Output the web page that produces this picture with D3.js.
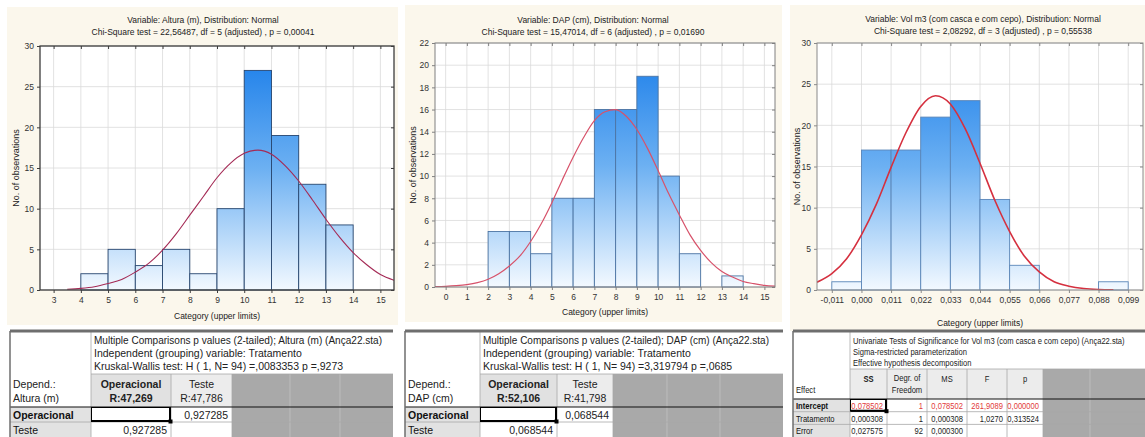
<!DOCTYPE html>
<html>
<head>
<meta charset="utf-8">
<script src="https://cdn.jsdelivr.net/npm/d3@7"></script>
<style>
  body { margin: 0; background: #fff; }
  svg { display: block; }
  text { font-family: "Liberation Sans", Arial, sans-serif; }
</style>
</head>
<body>
<script>
// ---------- histogram data ----------
const alturaEdges  = [4, 5, 6, 7, 8, 9, 10, 11, 12, 13, 14];
const alturaCounts = [2, 5, 3, 5, 2, 10, 27, 19, 13, 8];
const alturaTicks  = [3, 4, 5, 6, 7, 8, 9, 10, 11, 12, 13, 14, 15];
const alturaYTicks = [0, 5, 10, 15, 20, 25, 30];
const alturaCurveX = [3.5, 4, 4.5, 5, 5.5, 6, 6.5, 7, 7.5, 8, 8.5, 9, 9.5, 10, 10.5, 11, 11.5, 12, 12.5, 13, 13.5, 14, 14.5, 15, 15.5];
const alturaCurveY = [0.1, 0.2, 0.4, 0.8, 1.3, 2.2, 3.3, 4.9, 6.9, 9.2, 11.5, 13.8, 15.6, 16.8, 17.2, 16.7, 15.3, 13.4, 11.1, 8.7, 6.5, 4.6, 3.1, 1.9, 1.2];

const dapEdges  = [2, 3, 4, 5, 6, 7, 8, 9, 10, 11, 12, 13, 14];
const dapCounts = [5, 5, 3, 8, 8, 16, 16, 19, 10, 3, 0, 1];
const dapTicks  = [0, 1, 2, 3, 4, 5, 6, 7, 8, 9, 10, 11, 12, 13, 14, 15];
const dapYTicks = [0, 2, 4, 6, 8, 10, 12, 14, 16, 18, 20, 22];
const dapCurveX = [-0.5, 0, 0.5, 1, 1.5, 2, 2.5, 3, 3.5, 4, 4.5, 5, 5.5, 6, 6.5, 7, 7.5, 8, 8.5, 9, 9.5, 10, 10.5, 11, 11.5, 12, 12.5, 13, 13.5, 14, 14.5, 15, 15.5];
const dapCurveY = [0.03, 0.06, 0.12, 0.22, 0.4, 0.7, 1.2, 1.9, 2.8, 4.1, 5.7, 7.6, 9.7, 11.7, 13.5, 15.0, 15.8, 16.0, 15.4, 14.2, 12.5, 10.5, 8.4, 6.5, 4.7, 3.3, 2.2, 1.4, 0.9, 0.5, 0.3, 0.15, 0.08];

const volEdges  = [-0.011, 0, 0.011, 0.022, 0.033, 0.044, 0.055, 0.066, 0.077, 0.088, 0.099];
const volCounts = [1, 17, 17, 21, 23, 11, 3, 0, 0, 1];
const volTicks  = [-0.011, 0, 0.011, 0.022, 0.033, 0.044, 0.055, 0.066, 0.077, 0.088, 0.099];
const volYTicks = [0, 5, 10, 15, 20, 25, 30];
const volCurveX = [-0.0165, -0.011, -0.0055, 0, 0.0055, 0.011, 0.0165, 0.022, 0.0275, 0.033, 0.0385, 0.044, 0.0495, 0.055, 0.0605, 0.066, 0.0715, 0.077, 0.0825, 0.088, 0.0935];
const volCurveY = [0.95, 2.0, 3.8, 6.7, 10.4, 14.9, 19.1, 22.3, 23.6, 22.6, 19.6, 15.4, 10.9, 7.1, 4.1, 2.2, 1.0, 0.46, 0.18, 0.06, 0.02];

// ---------- table data ----------
const t1Title = ["Multiple Comparisons p values (2-tailed); Altura (m) (Ança22.sta)",
                 "Independent (grouping) variable: Tratamento",
                 "Kruskal-Wallis test: H ( 1, N= 94) =,0083353 p =,9273"];
const t1Corner = ["Depend.:", "Altura (m)"];
const t1ColHeads = [["Operacional", "R:47,269"], ["Teste", "R:47,786"]];
const t1RowHeads = ["Operacional", "Teste"];
const t1Values = [["", "0,927285"], ["0,927285", ""]];

const t2Title = ["Multiple Comparisons p values (2-tailed); DAP (cm) (Ança22.sta)",
                 "Independent (grouping) variable: Tratamento",
                 "Kruskal-Wallis test: H ( 1, N= 94) =3,319794 p =,0685"];
const t2Corner = ["Depend.:", "DAP (cm)"];
const t2ColHeads = [["Operacional", "R:52,106"], ["Teste", "R:41,798"]];
const t2RowHeads = ["Operacional", "Teste"];
const t2Values = [["", "0,068544"], ["0,068544", ""]];

const t3Title = ["Univariate Tests of Significance for Vol m3 (com casca e com cepo) (Ança22.sta)",
                 "Sigma-restricted parameterization",
                 "Effective hypothesis decomposition"];
const t3Corner = ["", "Effect"];
const t3ColHeads = [["SS"], ["Degr. of", "Freedom"], ["MS"], ["F"], ["p"]];
const t3RowHeads = ["Intercept", "Tratamento", "Error"];
const t3Values = [["0,078502", "1", "0,078502", "261,9089", "0,000000"],
                  ["0,000308", "1", "0,000308", "1,0270", "0,313524"],
                  ["0,027575", "92", "0,000300", "", ""]];

const W = 1145, H = 437;
const svg = d3.select("body").append("svg").attr("width", W).attr("height", H);
const defs = svg.append("defs");

function histogram(p) {
  const x = d3.scaleLinear().domain(p.xDomain).range([p.left, p.right]);
  const y = d3.scaleLinear().domain([0, p.yMax]).range([p.bottom, p.top]);
  const g = svg.append("g");

  g.append("rect")
    .attr("x", p.bg[0]).attr("y", p.bg[1])
    .attr("width", p.bg[2] - p.bg[0]).attr("height", p.bg[3] - p.bg[1])
    .attr("fill", "#fbf7ec");
  g.append("rect")
    .attr("x", p.left).attr("y", p.top)
    .attr("width", p.right - p.left).attr("height", p.bottom - p.top)
    .attr("fill", "#fff");

  const grad = defs.append("linearGradient").attr("id", p.id)
    .attr("gradientUnits", "userSpaceOnUse")
    .attr("x1", 0).attr("x2", 0).attr("y1", p.top).attr("y2", p.bottom);
  grad.append("stop").attr("offset", "0%").attr("stop-color", "#167be9");
  grad.append("stop").attr("offset", "50%").attr("stop-color", "#6cb0f2");
  grad.append("stop").attr("offset", "100%").attr("stop-color", "#f3f9ff");

  // grid
  g.append("g").selectAll("line").data(p.xTicks).join("line")
    .attr("x1", d => x(d)).attr("x2", d => x(d))
    .attr("y1", p.top).attr("y2", p.bottom)
    .attr("stroke", "#dadada").attr("stroke-width", 0.8);
  g.append("g").selectAll("line").data(p.yTicks).join("line")
    .attr("y1", d => y(d)).attr("y2", d => y(d))
    .attr("x1", p.left).attr("x2", p.right)
    .attr("stroke", "#dadada").attr("stroke-width", 0.8);

  // bars
  const bins = p.counts.map((n, i) => ({x0: p.edges[i], x1: p.edges[i + 1], n})).filter(b => b.n > 0);
  g.append("g").selectAll("rect").data(bins).join("rect")
    .attr("x", d => x(d.x0)).attr("width", d => x(d.x1) - x(d.x0))
    .attr("y", d => y(d.n)).attr("height", d => y(0) - y(d.n))
    .attr("fill", `url(#${p.id})`)
    .attr("stroke", p.barStroke).attr("stroke-width", 0.9);

  // fitted normal curve
  const clipId = p.id + "clip";
  defs.append("clipPath").attr("id", clipId).append("rect")
    .attr("x", p.left).attr("y", p.top)
    .attr("width", p.right - p.left).attr("height", p.bottom - p.top);
  const line = d3.line().x(d => x(d[0])).y(d => y(d[1])).curve(d3.curveMonotoneX);
  g.append("path").datum(d3.zip(p.curveX, p.curveY))
    .attr("clip-path", `url(#${clipId})`)
    .attr("d", line).attr("fill", "none")
    .attr("stroke", p.curveColor).attr("stroke-width", p.curveWidth);

  // frame
  g.append("rect")
    .attr("x", p.left).attr("y", p.top)
    .attr("width", p.right - p.left).attr("height", p.bottom - p.top)
    .attr("fill", "none").attr("stroke", p.frame).attr("stroke-width", p.frameWidth);

  const style = a => {
    a.select(".domain").remove();
    a.selectAll("line").attr("stroke", p.frame);
    a.selectAll("text").attr("font-size", 8.5).attr("fill", "#333")
      .attr("font-family", '"Liberation Sans", Arial, sans-serif');
  };
  g.append("g").attr("transform", `translate(0,${p.bottom})`)
    .call(d3.axisBottom(x).tickValues(p.xTicks).tickFormat(p.fmt).tickSize(3).tickPadding(4)).call(style);
  g.append("g").attr("transform", `translate(${p.left},0)`)
    .call(d3.axisLeft(y).tickValues(p.yTicks).tickSize(3).tickPadding(3)).call(style);
  g.append("g").attr("transform", `translate(0,${p.top})`)
    .call(d3.axisTop(x).tickValues(p.xTicks).tickFormat("").tickSize(-3)).call(style);
  g.append("g").attr("transform", `translate(${p.right},0)`)
    .call(d3.axisRight(y).tickValues(p.yTicks).tickFormat("").tickSize(-3)).call(style);

  // titles
  p.title.forEach((t, i) => {
    g.append("text").attr("x", p.titleX).attr("y", p.titleY + i * 12)
      .attr("text-anchor", "middle").attr("font-size", 8.5).attr("fill", "#222").text(t);
  });
  g.append("text")
    .attr("transform", `translate(${p.yTitleX},${(p.top + p.bottom) / 2}) rotate(-90)`)
    .attr("text-anchor", "middle").attr("font-size", 9).attr("fill", "#222")
    .text("No. of observations");
  g.append("text").attr("x", (p.left + p.right) / 2).attr("y", p.xTitleY)
    .attr("text-anchor", "middle").attr("font-size", 8.5).attr("fill", "#222")
    .text("Category (upper limits)");
}

const commaFmt = f => v => d3.format(f)(v).replace(".", ",").replace("\u2212", "-");

histogram({
  id: "gAltura", bg: [7, 7, 398, 325],
  left: 40, right: 394, top: 46, bottom: 290,
  xDomain: [2.5, 15.5], yMax: 30,
  edges: alturaEdges, counts: alturaCounts, xTicks: alturaTicks, yTicks: alturaYTicks,
  curveX: alturaCurveX, curveY: alturaCurveY, fmt: d3.format("d"),
  barStroke: "#27466f", curveColor: "#a42a55", curveWidth: 1.1,
  frame: "#3c3c3c", frameWidth: 1.3,
  title: ["Variable: Altura (m), Distribution: Normal",
          "Chi-Square test = 22,56487, df = 5 (adjusted) , p = 0,00041"],
  titleX: 203, titleY: 23, yTitleX: 19, xTitleY: 319
});

histogram({
  id: "gDap", bg: [405, 5, 782, 322],
  left: 435, right: 775, top: 43, bottom: 287,
  xDomain: [-0.5, 15.5], yMax: 22,
  edges: dapEdges, counts: dapCounts, xTicks: dapTicks, yTicks: dapYTicks,
  curveX: dapCurveX, curveY: dapCurveY, fmt: d3.format("d"),
  barStroke: "#4c74a4", curveColor: "#d7526a", curveWidth: 1.2,
  frame: "#808080", frameWidth: 1,
  title: ["Variable: DAP (cm), Distribution: Normal",
          "Chi-Square test = 15,47014, df = 6 (adjusted) , p = 0,01690"],
  titleX: 593, titleY: 23, yTitleX: 416, xTitleY: 315
});

histogram({
  id: "gVol", bg: [790, 5, 1145, 331],
  left: 817, right: 1143, top: 43, bottom: 290,
  xDomain: [-0.0165, 0.1045], yMax: 30,
  edges: volEdges, counts: volCounts, xTicks: volTicks, yTicks: volYTicks,
  curveX: volCurveX, curveY: volCurveY, fmt: commaFmt(".3f"),
  barStroke: "#5a86b8", curveColor: "#d5303f", curveWidth: 1.6,
  frame: "#8a8a8a", frameWidth: 1,
  title: ["Variable: Vol m3 (com casca e com cepo), Distribution: Normal",
          "Chi-Square test = 2,08292, df = 3 (adjusted) , p = 0,55538"],
  titleX: 983, titleY: 22, yTitleX: 800, xTitleY: 326
});

// ---------- tables ----------
function drawTable(t) {
  const g = svg.append("g").attr("font-size", t.font);
  const c = t.cols, last = c[c.length - 1];
  const nRows = t.rowHeads.length;
  const rowY = i => t.bodyTop + i * t.rowH;
  const sx = t.sx || 1;
  // text placed through a transform so the narrow tables can be squeezed horizontally
  const put = (px, py, s, anchor) => g.append("text")
    .attr("transform", `translate(${px},${py}) scale(${sx},1)`)
    .attr("text-anchor", anchor || "start").attr("fill", "#222").text(s);

  g.append("rect").attr("x", c[0]).attr("y", t.top)
    .attr("width", t.right - c[0]).attr("height", H - t.top).attr("fill", "#fff");
  g.append("rect").attr("x", last).attr("y", t.headTop)
    .attr("width", t.right - last).attr("height", H - t.headTop).attr("fill", "#a9a9a9");
  t.fillLines.forEach(fx => g.append("line")
    .attr("x1", fx).attr("x2", fx).attr("y1", t.headTop).attr("y2", H)
    .attr("stroke", "#bcbcbc"));

  // header cells
  t.colHeads.forEach((h, i) => {
    g.append("rect").attr("x", c[i + 1]).attr("y", t.headTop)
      .attr("width", c[i + 2] - c[i + 1]).attr("height", t.bodyTop - t.headTop)
      .attr("fill", t.headFill[i]);
  });
  // row header cells
  t.rowHeads.forEach((r, i) => {
    g.append("rect").attr("x", c[0]).attr("y", rowY(i))
      .attr("width", c[1] - c[0]).attr("height", t.rowH).attr("fill", "#e2e2e2");
  });

  // lines
  const gl = g.append("g").attr("stroke", "#a8a8a8").attr("stroke-width", 0.8);
  gl.append("line").attr("x1", c[1]).attr("x2", c[1]).attr("y1", t.top).attr("y2", H);
  gl.append("line").attr("x1", c[1]).attr("x2", t.right).attr("y1", t.headTop).attr("y2", t.headTop);
  c.slice(2).forEach(cx => gl.append("line").attr("x1", cx).attr("x2", cx).attr("y1", t.headTop).attr("y2", H));
  d3.range(1, nRows).forEach(i => gl.append("line")
    .attr("x1", c[0]).attr("x2", t.right).attr("y1", rowY(i)).attr("y2", rowY(i)));
  g.append("line").attr("x1", c[0]).attr("x2", t.right).attr("y1", t.bodyTop).attr("y2", t.bodyTop)
    .attr("stroke", "#111").attr("stroke-width", 1.2);
  g.append("line").attr("x1", c[0]).attr("x2", t.right).attr("y1", t.top).attr("y2", t.top)
    .attr("stroke", "#6e6e6e").attr("stroke-width", 3);
  g.append("line").attr("x1", c[0]).attr("x2", c[0]).attr("y1", t.top).attr("y2", H)
    .attr("stroke", "#6e6e6e").attr("stroke-width", 1.5);

  // selected cell
  const [sr, sc] = t.sel;
  g.append("rect").attr("x", c[sc + 1] + 0.5).attr("y", rowY(sr) + 0.5)
    .attr("width", c[sc + 2] - c[sc + 1] - 1).attr("height", t.rowH - 1)
    .attr("fill", "none").attr("stroke", "#000").attr("stroke-width", 1);
  g.append("path")
    .attr("d", `M${c[sc + 2] - 1},${rowY(sr) + 1}V${rowY(sr + 1) - 1}H${c[sc + 1] + 1}`)
    .attr("fill", "none").attr("stroke", "#000").attr("stroke-width", 2);
  g.append("rect").attr("x", c[sc + 2] - 2.5).attr("y", rowY(sr + 1) - 2.5)
    .attr("width", 4).attr("height", 4).attr("fill", "#000");

  // texts
  t.title.forEach((s, i) => {
    const tx = put(c[1] + 3, t.titleY[i], s);
    if (t.titleLen && t.titleLen[i]) tx.attr("textLength", t.titleLen[i]).attr("lengthAdjust", "spacingAndGlyphs");
  });
  t.corner.forEach((s, i) => put(c[0] + 3, t.headY[i], s));
  t.colHeads.forEach((h, i) => {
    const cx = (c[i + 1] + c[i + 2]) / 2;
    const ys = h.length === 1 ? [t.headSingleY] : t.headY;
    h.forEach((s, j) => put(cx, ys[j], s, "middle").attr("font-weight", t.headBold[i] ? "bold" : null));
  });
  t.rowHeads.forEach((s, i) => put(c[0] + 3, rowY(i) + t.rowText, s)
    .attr("fill", "#111").attr("font-weight", t.rowBold[i] ? "bold" : null));
  t.values.forEach((row, i) => row.forEach((s, j) =>
    put(c[j + 2] - 4, rowY(i) + t.rowText, s, "end").attr("fill", t.rowColor[i])));
}

const simpleLayout = {
  top: 331, headTop: 374, bodyTop: 407, rowH: 15,
  titleY: [344, 357, 370], headY: [388, 402], headSingleY: 388, rowText: 11.5,
  font: 10.5, sx: 1, headFill: ["#e1e1e1", "#ececec"], headBold: [true, false],
  rowBold: [true, false], rowColor: ["#222", "#222"], sel: [0, 0], titleLen: [288, 0, 0]
};

drawTable(Object.assign({}, simpleLayout, {
  cols: [10, 91, 171, 232], right: 393, fillLines: [290, 340],
  title: t1Title, corner: t1Corner, colHeads: t1ColHeads, rowHeads: t1RowHeads, values: t1Values
}));
drawTable(Object.assign({}, simpleLayout, {
  cols: [405, 480, 557, 613], right: 783, fillLines: [667, 720],
  title: t2Title, corner: t2Corner, colHeads: t2ColHeads, rowHeads: t2RowHeads, values: t2Values,
  titleLen: [286, 0, 0]
}));
drawTable({
  top: 331, headTop: 369, bodyTop: 399, rowH: 12.7,
  titleY: [344, 355, 366], headY: [381, 393], headSingleY: 382, rowText: 9.8,
  font: 9.5, sx: 0.8, headFill: ["#ececec", "#ececec", "#ececec", "#ececec", "#ececec"],
  headBold: [true, false, false, false, false],
  rowBold: [true, false, false], rowColor: ["#e23a3a", "#222", "#222"], sel: [0, 0],
  cols: [793, 850, 887, 927, 967, 1007, 1043], right: 1145, fillLines: [1090],
  title: t3Title, corner: t3Corner, colHeads: t3ColHeads, rowHeads: t3RowHeads, values: t3Values
});
</script>
</body>
</html>
